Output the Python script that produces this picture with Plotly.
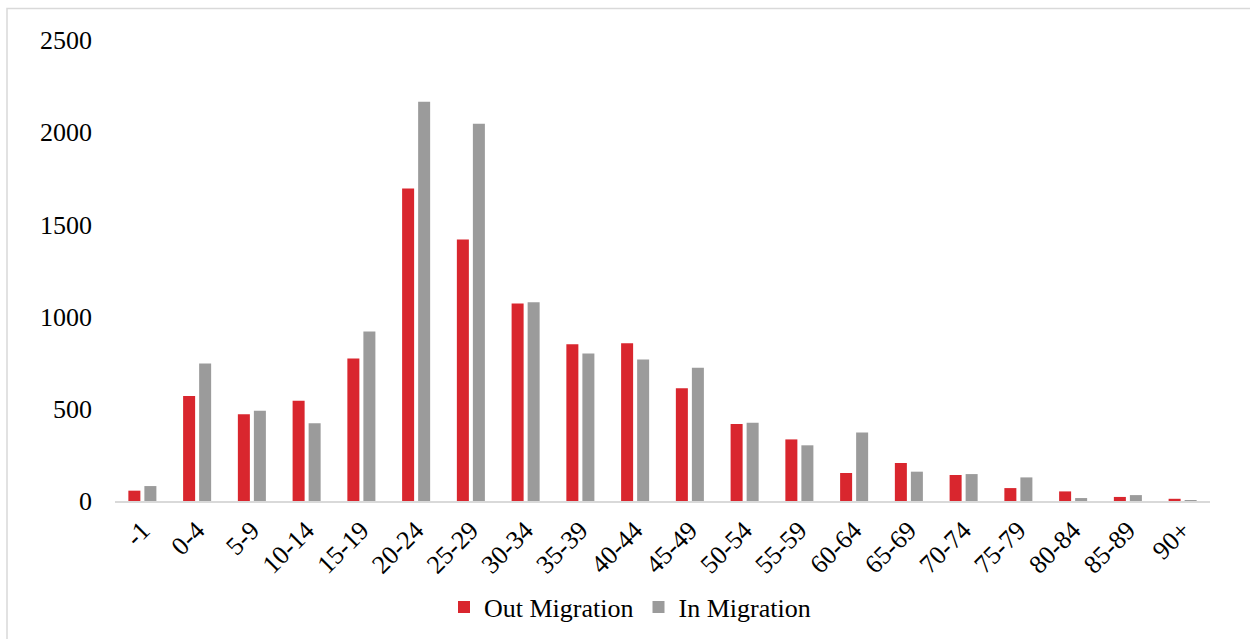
import plotly.graph_objects as go

# Age groups and migration counts
age_groups = ["-1", "0-4", "5-9", "10-14", "15-19", "20-24", "25-29", "30-34",
              "35-39", "40-44", "45-49", "50-54", "55-59", "60-64", "65-69",
              "70-74", "75-79", "80-84", "85-89", "90+"]
out_migration = [56, 569, 470, 543, 773, 1695, 1418, 1071, 850, 856, 612, 417,
                 334, 152, 206, 141, 70, 52, 22, 12]
in_migration = [81, 746, 489, 421, 919, 2165, 2046, 1078, 800, 768, 722, 424,
                302, 372, 159, 146, 128, 16, 32, 5]
y_ticks = [0, 500, 1000, 1500, 2000, 2500]

RED = "#D9262E"
GREY = "#9B9B9B"
FONT = "Liberation Serif, Times New Roman, serif"

fig = go.Figure()
fig.add_trace(go.Bar(x=age_groups, y=out_migration, name="Out Migration",
                     marker=dict(color=RED, line=dict(width=0))))
fig.add_trace(go.Bar(x=age_groups, y=in_migration, name="In Migration",
                     marker=dict(color=GREY, line=dict(width=0))))

W, H = 1250, 639
L, R, T, B = 115, 40, 40, 138
pw, ph = W - L - R, H - T - B


def px_x(p):
    return (p - L) / pw


def px_y(p):
    return (H - B - p) / ph


fig.update_layout(
    width=W, height=H,
    margin=dict(l=L, r=R, t=T, b=B, autoexpand=False),
    paper_bgcolor="white", plot_bgcolor="white",
    barmode="group", bargap=0.415, bargroupgap=0.25,
    font=dict(family=FONT, size=26, color="#000000"),
    showlegend=True,
    legend=dict(orientation="h", x=px_x(630), xanchor="center",
                y=px_y(607), yanchor="middle",
                font=dict(family=FONT, size=26, color="#000000"),
                itemwidth=30, tracegroupgap=0, bgcolor="rgba(0,0,0,0)"),
    xaxis=dict(showline=True, linecolor="#D9D9D9", linewidth=1.5,
               showgrid=False, zeroline=False, tickangle=-45, ticks="",
               ticklabelstandoff=2,
               tickfont=dict(family=FONT, size=26, color="#000000")),
    yaxis=dict(range=[0, 2500], tickvals=y_ticks, showgrid=False,
               zeroline=False, showline=False, ticks="",
               ticklabelstandoff=22,
               tickfont=dict(family=FONT, size=26, color="#000000")),
    shapes=[dict(type="rect", xref="paper", yref="paper",
                 x0=px_x(7), x1=px_x(1265), y0=px_y(8.5), y1=px_y(670),
                 line=dict(color="#D9D9D9", width=1.5),
                 fillcolor="rgba(0,0,0,0)", layer="below")],
)

fig.write_html("out.html")
